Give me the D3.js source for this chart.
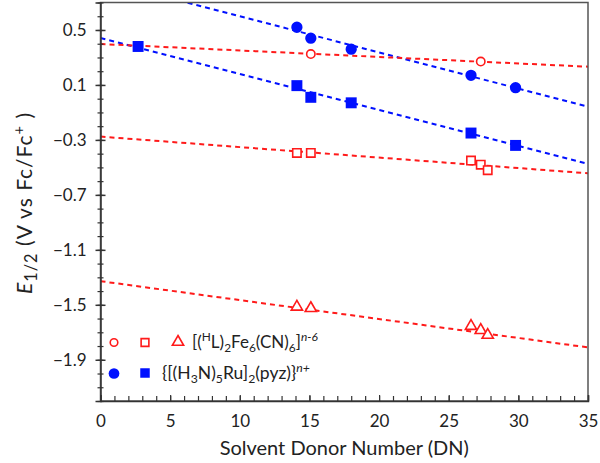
<!DOCTYPE html>
<html><head><meta charset="utf-8">
<script src="https://cdn.jsdelivr.net/npm/d3@7"></script>
<style>body{margin:0;background:#fff}svg{display:block}text{font-family:Lato,"Noto Sans",sans-serif;fill:#222}</style>
</head><body><svg id="c" width="600" height="463"></svg>
<script>
// Data
const blueCircleX = [14.1, 15.1, 18.0, 26.6, 29.8];
const blueCircleY = [0.52, 0.44, 0.36, 0.17, 0.08];
const blueSquareX = [2.7, 14.1, 15.1, 18.0, 26.6, 29.8];
const blueSquareY = [0.38, 0.095, 0.01, -0.03, -0.25, -0.34];
const redCircleX = [15.1, 27.3];
const redCircleY = [0.325, 0.27];
const redSquareX = [14.1, 15.1, 26.6, 27.3, 27.8];
const redSquareY = [-0.395, -0.395, -0.45, -0.48, -0.52];
const redTriangleX = [14.1, 15.1, 26.6, 27.3, 27.8];
const redTriangleY = [-1.515, -1.525, -1.655, -1.685, -1.72];
// fit lines: endpoints [x0, y0, x1, y1]
const fitBlueCircle = [0, 0.863, 35, -0.058];
const fitBlueSquare = [0, 0.442, 35, -0.475];
const fitRedCircle = [0, 0.398, 35, 0.233];
const fitRedSquare = [0, -0.276, 35, -0.543];
const fitRedTriangle = [0, -1.328, 35, -1.81];
const xTicks = [0, 5, 10, 15, 20, 25, 30, 35];
const yTicks = [0.5, 0.1, -0.3, -0.7, -1.1, -1.5, -1.9];

const RED = "#ff1a1a", BLUE = "#0010ff";
const svg = d3.select("#c");
const x = d3.scaleLinear().domain([0, 35]).range([100.5, 588]);
const y = d3.scaleLinear().domain([-2.2, 0.7]).range([401, 2.5]);

svg.append("clipPath").attr("id", "clip").append("rect")
  .attr("x", x(0)).attr("y", y(0.7)).attr("width", x(35) - x(0)).attr("height", y(-2.2) - y(0.7));

// fit lines
const fits = [[fitBlueCircle, BLUE], [fitBlueSquare, BLUE], [fitRedCircle, RED], [fitRedSquare, RED], [fitRedTriangle, RED]];
const gl = svg.append("g").attr("clip-path", "url(#clip)");
fits.forEach(([f, c]) => {
  gl.append("line").attr("x1", x(f[0])).attr("y1", y(f[1])).attr("x2", x(f[2])).attr("y2", y(f[3]))
    .attr("stroke", c).attr("stroke-width", 2).attr("stroke-dasharray", "5,4");
});

// frame
svg.append("rect").attr("x", x(0)).attr("y", y(0.7)).attr("width", x(35) - x(0)).attr("height", y(-2.2) - y(0.7))
  .attr("fill", "none").attr("stroke", "#555").attr("stroke-width", 1.5);

// x axis
const xMinor = d3.range(0, 36, 1);
const gx = svg.append("g").attr("transform", `translate(0,${y(-2.2)})`);
gx.call(d3.axisBottom(x).tickValues(xMinor).tickSize(-5).tickFormat(""))
  .call(g => g.select(".domain").remove())
  .call(g => g.selectAll("line").attr("stroke", "#333").attr("stroke-width", 1.2));
const gx2 = svg.append("g").attr("transform", `translate(0,${y(-2.2)})`);
gx2.call(d3.axisBottom(x).tickValues(xTicks).tickSize(-6).tickPadding(14).tickFormat(d3.format("d")))
  .call(g => g.select(".domain").attr("stroke", "#333").attr("stroke-width", 1.5))
  .call(g => g.selectAll("line").attr("stroke", "#333").attr("stroke-width", 1.2))
  .call(g => g.selectAll("text").attr("font-size", 17).attr("font-family", "Lato, sans-serif").attr("fill", "#222"));

// y axis
const yMinor = d3.range(-22, 8, 1).map(v => v / 10);
const gy = svg.append("g").attr("transform", `translate(${x(0)},0)`);
gy.call(d3.axisLeft(y).tickValues(yMinor).tickSize(3).tickFormat(""))
  .call(g => g.select(".domain").remove())
  .call(g => g.selectAll("line").attr("x2", 3).attr("x1", -3).attr("stroke", "#333").attr("stroke-width", 1.2));
const gy2 = svg.append("g").attr("transform", `translate(${x(0)},0)`);
gy2.call(d3.axisLeft(y).tickValues(yTicks).tickSize(5).tickPadding(9).tickFormat(d3.format(".1f")))
  .call(g => g.select(".domain").attr("stroke", "#333").attr("stroke-width", 1.5))
  .call(g => g.selectAll("line").attr("x1", 5).attr("x2", -5).attr("stroke", "#333").attr("stroke-width", 1.5))
  .call(g => g.selectAll("text").attr("font-size", 17).attr("font-family", "Lato, sans-serif").attr("fill", "#222"));

// markers
const zip = (a, b) => a.map((v, i) => [v, b[i]]);
const sym = (type, size) => d3.symbol().type(type).size(size)();
function drawSet(X, Y, type, size, filled, color) {
  svg.append("g").selectAll("path").data(zip(X, Y)).join("path")
    .attr("transform", d => `translate(${x(d[0])},${y(d[1])})`)
    .attr("d", sym(type, size))
    .attr("fill", filled ? color : "#fff")
    .attr("stroke", color).attr("stroke-width", filled ? 0 : 1.6);
}
drawSet(redCircleX, redCircleY, d3.symbolCircle, 55, false, RED);
drawSet(redSquareX, redSquareY, d3.symbolSquare, 70, false, RED);
drawSet(redTriangleX, redTriangleY, d3.symbolTriangle, 55, false, RED);
drawSet(blueCircleX, blueCircleY, d3.symbolCircle, 100, true, BLUE);
drawSet(blueSquareX, blueSquareY, d3.symbolSquare, 120, true, BLUE);

// legend
function legendMark(px, py, type, size, filled, color) {
  svg.append("path").attr("transform", `translate(${px},${py})`).attr("d", sym(type, size))
    .attr("fill", filled ? color : "#fff").attr("stroke", color).attr("stroke-width", filled ? 0 : 1.6);
}
legendMark(114, 342.5, d3.symbolCircle, 45, false, RED);
legendMark(145, 342.5, d3.symbolSquare, 60, false, RED);
legendMark(178, 342, d3.symbolTriangle, 55, false, RED);
legendMark(114, 373.5, d3.symbolCircle, 90, true, BLUE);
legendMark(145, 373, d3.symbolSquare, 90, true, BLUE);

function rich(t, parts, subScale) {
  parts.forEach(p => {
    const s = t.append("tspan").text(p.t);
    if (p.sub) s.attr("baseline-shift", "-30%").attr("font-size", (subScale || 0.7) + "em");
    if (p.sup) s.attr("baseline-shift", "55%").attr("font-size", "0.7em");
    if (p.it) s.attr("font-style", "italic");
  });
}
const t1 = svg.append("text").attr("x", 192).attr("y", 348).attr("font-size", 17);
rich(t1, [{t: "[("}, {t: "H", sup: 1}, {t: "L)"}, {t: "2", sub: 1}, {t: "Fe"}, {t: "6", sub: 1}, {t: "(CN)"}, {t: "6", sub: 1}, {t: "]"}, {t: "n-6", sup: 1, it: 1}]);
const t2 = svg.append("text").attr("x", 162).attr("y", 379).attr("font-size", 17.5);
rich(t2, [{t: "{[(H"}, {t: "3", sub: 1}, {t: "N)"}, {t: "5", sub: 1}, {t: "Ru]"}, {t: "2", sub: 1}, {t: "(pyz)}"}, {t: "n+", sup: 1, it: 1}]);

// axis titles
svg.append("text").attr("x", x(17.5)).attr("y", 455).attr("text-anchor", "middle").attr("font-size", 20)
  .text("Solvent Donor Number (DN)");
const yl = svg.append("text").attr("transform", "translate(32,203) rotate(-90)").attr("text-anchor", "middle")
  .attr("font-size", 21).attr("letter-spacing", 1);
rich(yl, [{t: "E", it: 1}, {t: "1/2", sub: 1}, {t: " (V vs Fc/Fc"}, {t: "+", sup: 1}, {t: " )"}], 0.78);
</script></body></html>
